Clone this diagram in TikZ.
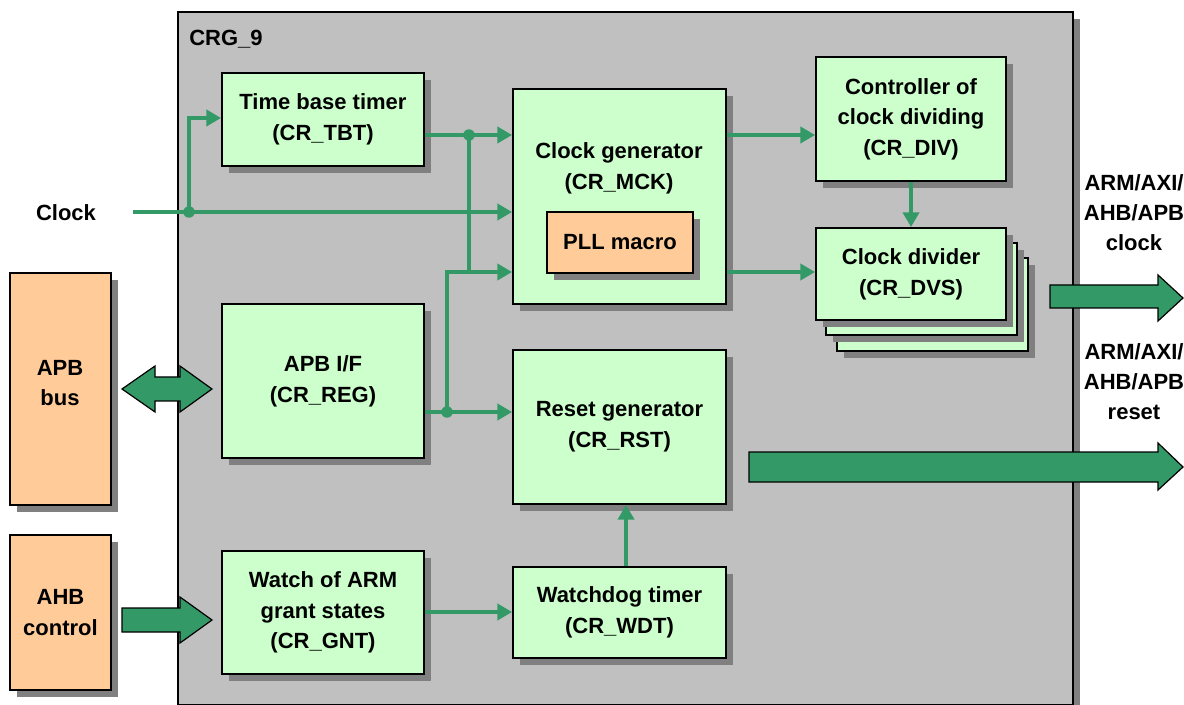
\documentclass[tikz,border=0pt]{standalone}
\usepackage{fontspec}
\setmainfont{Liberation Sans}
\usetikzlibrary{arrows.meta,shadows}
\definecolor{blockgreen}{HTML}{CCFFCC}
\definecolor{blockorange}{HTML}{FFCC99}
\definecolor{crggray}{HTML}{C0C0C0}
\definecolor{shadowgray}{HTML}{808080}
\definecolor{wire}{HTML}{339966}

% \blk{name}{x1}{y1}{x2}{y2}{fill}{text}: a box given by its corners
\newcommand\blk[7]{%
  \node[blkstyle, fill=#6, minimum width={(#4-#2)*0.75pt},
        minimum height={(#5-#3)*0.75pt}] (#1) at ({(#2+#4)/2},{(#3+#5)/2}) {#7};}

\begin{document}
\begin{tikzpicture}[x=0.75pt,y=-0.75pt,
  txt/.style={font=\bfseries\fontsize{16.5}{23}\selectfont, align=center, inner sep=0pt},
  blkstyle/.style={draw=black, line width=1.4pt, txt,
    drop shadow={shadow xshift=5.25pt, shadow yshift=-5.25pt, fill=shadowgray, opacity=1}},
  conn/.style={draw=wire, line width=3.6pt, -{Triangle[length=11pt,width=12pt]}},
  wireline/.style={draw=wire, line width=3.6pt},
  dot/.style={fill=wire},
  bigarrow/.style={fill=wire, draw=black, line width=0.9pt, line join=miter}
]
\useasboundingbox (0,0) rectangle (1184,705);

% outer CRG block
\blk{crg}{178}{12}{1073}{705}{crggray}{}
\node[txt, anchor=west] (crglabel) at (189,39) {CRG\_9};

% external blocks
\blk{apb}{10}{273}{111}{505}{blockorange}{}
\node[txt] (apbtext) at (60,383) {APB\\bus};
\blk{ahb}{10}{535}{111}{690}{blockorange}{AHB\\control}

% internal blocks
\blk{tbt}{222}{73}{424}{166}{blockgreen}{Time base timer\\(CR\_TBT)}
\blk{mck}{513}{89}{726}{304}{blockgreen}{}
\node[txt] (mcktext) at (619,168) {Clock generator\\(CR\_MCK)};
\blk{pll}{547}{212}{693}{273}{blockorange}{PLL macro}
\blk{div}{816}{57}{1006}{181}{blockgreen}{Controller of\\clock dividing\\(CR\_DIV)}
\blk{dvs3}{837}{258}{1028}{351}{blockgreen}{}
\blk{dvs2}{826}{243}{1017}{335}{blockgreen}{}
\blk{dvs}{816}{228}{1006}{320}{blockgreen}{Clock divider\\(CR\_DVS)}
\blk{reg}{222}{304}{424}{458}{blockgreen}{APB I/F\\(CR\_REG)}
\blk{rst}{513}{350}{726}{504}{blockgreen}{Reset generator\\(CR\_RST)}
\blk{gnt}{222}{551}{424}{674}{blockgreen}{Watch of ARM\\grant states\\(CR\_GNT)}
\blk{wdt}{513}{567}{726}{658}{blockgreen}{Watchdog timer\\(CR\_WDT)}

% clock input
\node[txt] (clk) at (66,213) {Clock};
\coordinate (clkin) at (133,212);
\coordinate (d1) at (189,212);
\coordinate (tbtin) at (222,118);
\draw[conn] (clkin) -- (mck.west |- clkin);
\draw[conn] (d1) |- (tbt.west |- tbtin);
\fill[dot] (d1) circle (4.3pt);

% time base timer and register interface to clock / reset generators
\coordinate (tbtout) at (424,135);
\coordinate (d2) at (469,135);
\coordinate (jr) at (469,272);
\coordinate (d3) at (447,412);
\draw[conn] (tbt.east |- tbtout) -- (mck.west |- tbtout);
\draw[wireline] (d2) -- (jr);
\draw[conn] (reg.east |- d3) -- (rst.west |- d3);
\draw[conn] (d3) |- (mck.west |- jr);
\fill[dot] (d2) circle (4.3pt);
\fill[dot] (d3) circle (4.3pt);

% clock generator outputs
\draw[conn] (mck.east |- tbtout) -- (div.west |- tbtout);
\draw[conn] (mck.east |- jr) -- (dvs.west |- jr);
\draw[conn] (div.south) -- (dvs.north);

% watchdog path
\draw[conn] (gnt.east |- 0,612) -- (wdt.west |- 0,612);
\draw[conn] ([xshift=4.9pt]wdt.north) -- ([xshift=4.9pt]rst.south);

% bus arrows
\draw[bigarrow] (122,389) -- (155,366) -- (155,377) -- (180,377) -- (180,366)
  -- (212,389) -- (180,412) -- (180,401) -- (155,401) -- (155,412) -- cycle;
\draw[bigarrow] (122,608) -- (180,608) -- (180,597) -- (212,620) -- (180,643)
  -- (180,632) -- (122,632) -- cycle;
\draw[bigarrow] (1050,285) -- (1158,285) -- (1158,275) -- (1183,298) -- (1158,321)
  -- (1158,308) -- (1050,308) -- cycle;
\draw[bigarrow] (749,452) -- (1158,452) -- (1158,443) -- (1183,467) -- (1158,490)
  -- (1158,482) -- (749,482) -- cycle;

% output labels
\node[txt, font=\bfseries\fontsize{16.5}{22.5}\selectfont] (clkout) at (1134,213) {ARM/AXI/\\AHB/APB\\clock};
\node[txt, font=\bfseries\fontsize{16.5}{22.5}\selectfont] (rstout) at (1134,382) {ARM/AXI/\\AHB/APB\\reset};
\end{tikzpicture}
\end{document}
